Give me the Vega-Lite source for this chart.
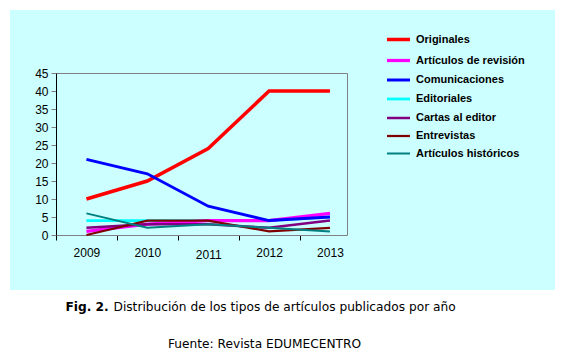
{
  "$schema": "https://vega.github.io/schema/vega-lite/v6.json",
  "width": 545,
  "height": 280,
  "autosize": {"type": "none"},
  "padding": {"left": 10, "top": 10, "right": 8, "bottom": 68},
  "background": "white",
  "config": {
    "view": {"fill": "#CCFFFF", "stroke": null},
    "axis": {"grid": false},
    "legend": {
      "labelFont": "Liberation Sans",
      "labelFontWeight": "bold",
      "labelFontSize": 11,
      "labelColor": "black",
      "symbolType": "stroke",
      "symbolSize": 529,
      "rowPadding": -4,
      "labelOffset": 4,
      "padding": 0
    }
  },
  "data": {
    "values": [
      {"year": 2009, "serie": "Editoriales", "value": 4},
      {"year": 2010, "serie": "Editoriales", "value": 4},
      {"year": 2011, "serie": "Editoriales", "value": 4},
      {"year": 2012, "serie": "Editoriales", "value": 4},
      {"year": 2013, "serie": "Editoriales", "value": 5},
      {"year": 2009, "serie": "Originales", "value": 10},
      {"year": 2010, "serie": "Originales", "value": 15},
      {"year": 2011, "serie": "Originales", "value": 24},
      {"year": 2012, "serie": "Originales", "value": 40},
      {"year": 2013, "serie": "Originales", "value": 40},
      {"year": 2009, "serie": "Artículos de revisión", "value": 1},
      {"year": 2010, "serie": "Artículos de revisión", "value": 3},
      {"year": 2011, "serie": "Artículos de revisión", "value": 4},
      {"year": 2012, "serie": "Artículos de revisión", "value": 4},
      {"year": 2013, "serie": "Artículos de revisión", "value": 6},
      {"year": 2009, "serie": "Comunicaciones", "value": 21},
      {"year": 2010, "serie": "Comunicaciones", "value": 17},
      {"year": 2011, "serie": "Comunicaciones", "value": 8},
      {"year": 2012, "serie": "Comunicaciones", "value": 4},
      {"year": 2013, "serie": "Comunicaciones", "value": 5},
      {"year": 2009, "serie": "Cartas al editor", "value": 2},
      {"year": 2010, "serie": "Cartas al editor", "value": 3},
      {"year": 2011, "serie": "Cartas al editor", "value": 3},
      {"year": 2012, "serie": "Cartas al editor", "value": 2},
      {"year": 2013, "serie": "Cartas al editor", "value": 4},
      {"year": 2009, "serie": "Entrevistas", "value": 0},
      {"year": 2010, "serie": "Entrevistas", "value": 4},
      {"year": 2011, "serie": "Entrevistas", "value": 4},
      {"year": 2012, "serie": "Entrevistas", "value": 1},
      {"year": 2013, "serie": "Entrevistas", "value": 2},
      {"year": 2009, "serie": "Artículos históricos", "value": 6},
      {"year": 2010, "serie": "Artículos históricos", "value": 2},
      {"year": 2011, "serie": "Artículos históricos", "value": 3},
      {"year": 2012, "serie": "Artículos históricos", "value": 2},
      {"year": 2013, "serie": "Artículos históricos", "value": 1}
    ]
  },
  "layer": [
    {
      "mark": {"type": "line", "opacity": 0},
      "encoding": {
        "x": {
          "field": "year", "type": "quantitative",
          "scale": {"domain": [2008.5, 2013.28], "range": [46, 337], "nice": false, "zero": false},
          "axis": {
            "orient": "top", "offset": -63, "domainColor": "#808080", "domainWidth": 1,
            "ticks": false, "labels": false,
            "title": "Fig. 2.", "titleX": 55, "titleY": 233, "titleAlign": "left", "titleBaseline": "middle",
            "titleFont": "DejaVu Sans", "titleFontSize": 12.2, "titleFontWeight": "bold", "titleColor": "black"
          }
        },
        "y": {
          "field": "value", "type": "quantitative",
          "scale": {"domain": [0, 45], "range": [225, 63], "nice": false},
          "axis": {
            "orient": "right", "offset": -208, "domainColor": "#808080", "domainWidth": 1,
            "ticks": false, "labels": false,
            "title": "Fuente: Revista EDUMECENTRO", "titleX": -83, "titleY": 333, "titleAngle": 0,
            "titleAlign": "center", "titleBaseline": "middle",
            "titleFont": "DejaVu Sans", "titleFontSize": 12.2, "titleFontWeight": "normal", "titleColor": "black"
          }
        },
        "detail": {"field": "serie"}
      }
    },
    {
      "mark": {"type": "line"},
      "encoding": {
        "x": {
          "field": "year", "type": "quantitative",
          "scale": {"domain": [2008.5, 2013.28], "range": [46, 337], "nice": false, "zero": false},
          "axis": {
            "orient": "bottom", "offset": -55,
            "values": [2008.5, 2009, 2009.5, 2010, 2010.5, 2011, 2011.5, 2012, 2012.5, 2013],
            "labelExpr": "datum.value % 1 == 0 ? format(datum.value, 'd') : ''",
            "tickOpacity": {"condition": {"test": "datum.value % 1 == 0", "value": 0}, "value": 1},
            "labelPadding": {"condition": {"test": "datum.value == 2011", "value": 9.5}, "value": 7},
            "tickSize": 5, "tickColor": "#000000", "domainColor": "#808080",
            "labelFont": "Liberation Sans", "labelFontSize": 12, "labelColor": "black",
            "labelFlush": false, "labelOverlap": false,
            "title": "Distribución de los tipos de artículos publicados por año",
            "titleX": 103, "titleY": 71, "titleAlign": "left", "titleBaseline": "middle",
            "titleFont": "DejaVu Sans", "titleFontSize": 12.2, "titleFontWeight": "normal", "titleColor": "black"
          }
        },
        "y": {
          "field": "value", "type": "quantitative",
          "scale": {"domain": [0, 45], "range": [225, 63], "nice": false},
          "axis": {
            "orient": "left", "offset": -46,
            "values": [0, 5, 10, 15, 20, 25, 30, 35, 40, 45],
            "tickSize": 5, "tickColor": "#808080", "domainColor": "#000000",
            "labelPadding": 3,
            "labelFont": "Liberation Sans", "labelFontSize": 12, "labelColor": "black",
            "labelFlush": false, "labelOverlap": false,
            "title": null
          }
        },
        "color": {
          "field": "serie", "type": "nominal", "title": null,
          "scale": {
            "domain": ["Originales", "Artículos de revisión", "Comunicaciones", "Editoriales", "Cartas al editor", "Entrevistas", "Artículos históricos"],
            "range": ["#FF0000", "#FF00FF", "#0000FF", "#00FFFF", "#800080", "#800000", "#008080"]
          },
          "legend": {"orient": "none", "legendX": 375, "legendY": 16}
        },
        "strokeWidth": {
          "field": "serie", "type": "nominal", "title": null,
          "scale": {
            "domain": ["Originales", "Artículos de revisión", "Comunicaciones", "Editoriales", "Cartas al editor", "Entrevistas", "Artículos históricos"],
            "range": [3.5, 2, 3.5, 2, 2, 2, 2]
          },
          "legend": {"orient": "none", "legendX": 375, "legendY": 16}
        }
      }
    }
  ],
  "resolve": {"axis": {"x": "independent", "y": "independent"}}
}
